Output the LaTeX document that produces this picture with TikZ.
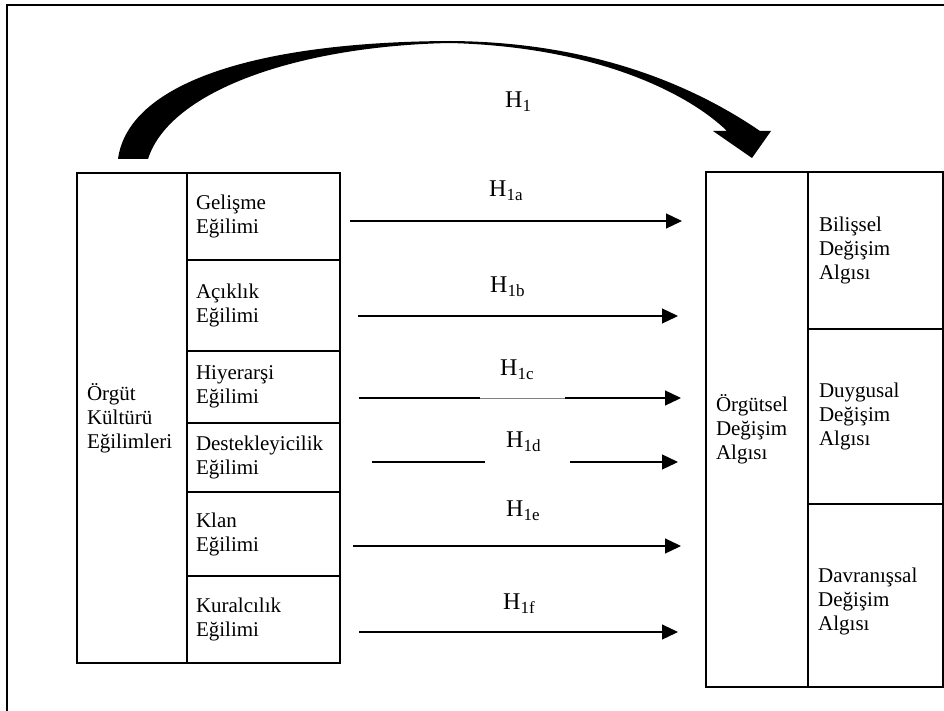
\documentclass[tikz,border=0pt]{standalone}
\usepackage{fontspec}
\setmainfont{Liberation Serif}
\usetikzlibrary{arrows.meta}
\begin{document}
\begin{tikzpicture}[x=1pt,y=-1pt,
  bigbox/.style={draw,line width=2pt,inner ysep=0pt,align=left,anchor=north west,font=\fontsize{21}{24}\selectfont},
  cell/.style={draw,line width=2pt,inner xsep=9pt,inner ysep=0pt,text width=135pt,minimum width=153pt,align=left,anchor=north west,font=\fontsize{21}{24}\selectfont},
  rcell/.style={draw,line width=2pt,inner xsep=11pt,inner ysep=0pt,text width=113pt,minimum width=135pt,align=left,anchor=north west,font=\fontsize{21}{24}\selectfont},
  txt/.style={inner sep=0pt,align=left,anchor=west,font=\fontsize{21}{24}\selectfont},
  hyp/.style={line width=1.2pt,-{Triangle[length=16pt,width=15pt]}},
  seg/.style={line width=1.2pt},
  lab/.style={anchor=base west,inner sep=0pt,font=\fontsize{24}{26}\selectfont}]
\clip (0,0) rectangle (944,711);
\fill[white] (0,0) rectangle (944,711);
% outer frame
\draw[line width=2pt] (7,5) rectangle (970,740);

% left block
\node[bigbox,inner xsep=10pt,text width=90pt,minimum width=110pt,minimum height=490pt] (org) at (76,172) {Örgüt\\Kültürü\\Eğilimleri};
\node[cell,minimum height=87pt] (gel) at (186,172) {Gelişme\\Eğilimi};
\node[cell,minimum height=91pt] (aci) at (186,259) {Açıklık\\Eğilimi};
\node[cell,minimum height=72pt] (hiy) at (186,350) {Hiyerarşi\\Eğilimi};
\node[cell,minimum height=69pt] (des) at (186,422) {Destekleyicilik\\Eğilimi};
\node[cell,minimum height=84pt] (kla) at (186,491) {Klan\\Eğilimi};
\node[cell,minimum height=87pt] (kur) at (186,575) {Kuralcılık\\Eğilimi};

% right block
\node[bigbox,inner xsep=10pt,text width=82pt,minimum width=102pt,minimum height=515pt] (ods) at (705,171) {Örgütsel\\Değişim\\Algısı};
\node[rcell,minimum height=157pt] (bil) at (807,171) {Bilişsel\\Değişim\\Algısı};
\node[rcell,minimum height=175pt] (duy) at (807,328) {Duygusal\\Değişim\\Algısı};
\node[rcell,minimum height=183pt] (dav) at (807,503) {};
\node[txt] (davtxt) at (818,601) {Davranışsal\\Değişim\\Algısı};

% arrow end points
\coordinate (a1) at (350,221); \coordinate (a2) at (682,221);
\coordinate (b1) at (358,316); \coordinate (b2) at (678,316);
\coordinate (c1) at (359,398); \coordinate (c2) at (480,398); \coordinate (c3) at (565,398); \coordinate (c4) at (681,398);
\coordinate (d1) at (372,462); \coordinate (d2) at (485,462); \coordinate (d3) at (570,462); \coordinate (d4) at (678,462);
\coordinate (e1) at (353,546); \coordinate (e2) at (681,546);
\coordinate (f1) at (359,632); \coordinate (f2) at (678,632);

\draw[hyp] (a1) -- (a2);
\draw[hyp] (b1) -- (b2);
\draw[seg] (c1) -- (c2);
\draw[line width=0.8pt,gray] (c2) -- (c3);
\draw[hyp] (c3) -- (c4);
\draw[seg] (d1) -- (d2);
\draw[hyp] (d3) -- (d4);
\draw[hyp] (e1) -- (e2);
\draw[hyp] (f1) -- (f2);

% labels
\newcommand{\hlab}[1]{H\raisebox{-4pt}{\fontsize{17}{17}\selectfont #1}}
\node[lab] (h1a) at (489,197) {\hlab{1a}};
\node[lab] (h1b) at (490,292) {\hlab{1b}};
\node[lab] (h1c) at (500,375) {\hlab{1c}};
\node[lab] (h1d) at (506,447) {\hlab{1d}};
\node[lab] (h1e) at (506,516) {\hlab{1e}};
\node[lab] (h1f) at (503,609) {\hlab{1f}};
\node[lab] (h1) at (505,108) {\hlab{1}};

% big curved arrow
\fill[black] (118,159)
  .. controls (128,85) and (250,42) .. (450,41)
  .. controls (600,42) and (700,90) .. (760,131)
  -- (771,131) -- (752,158) -- (713,131) -- (727,131)
  .. controls (690,95) and (600,47) .. (450,43)
  .. controls (300,46) and (170,90) .. (148,159) -- cycle;
\end{tikzpicture}
\end{document}
